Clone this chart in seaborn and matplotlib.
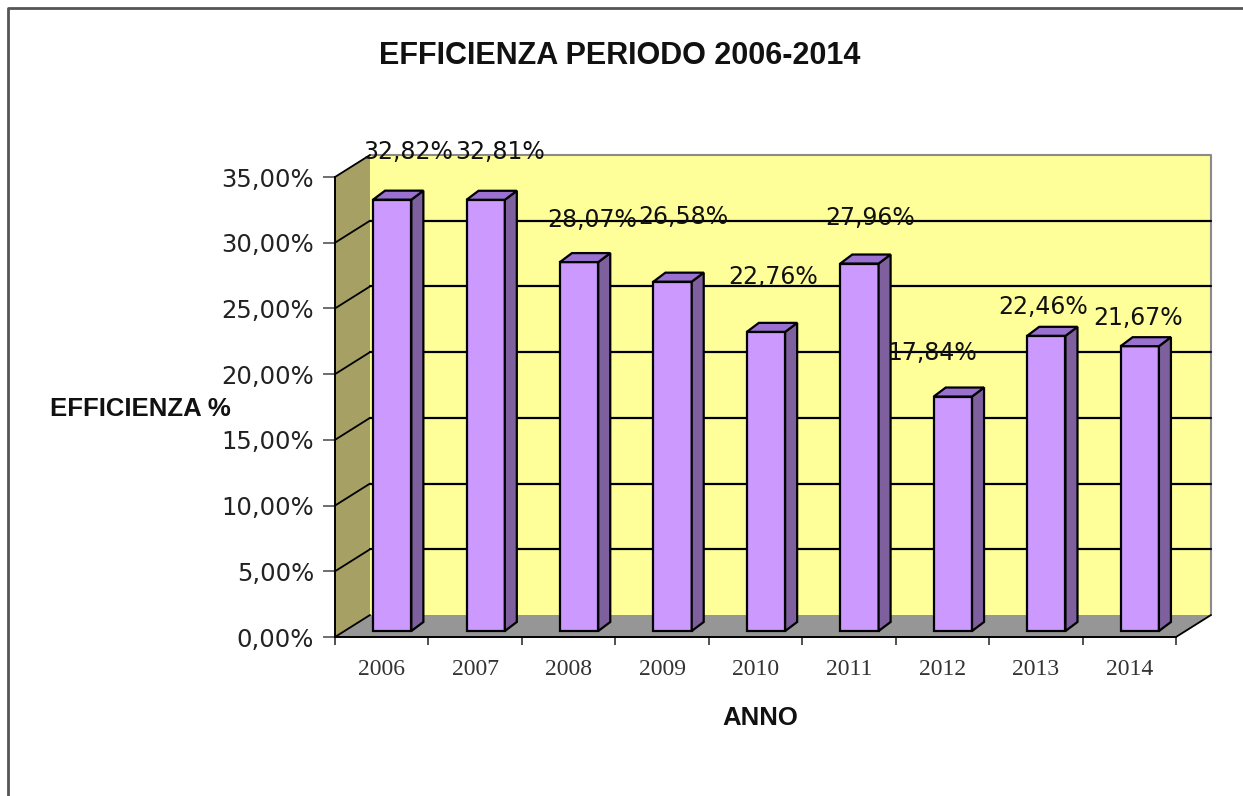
import matplotlib
matplotlib.use("Agg")
import numpy as np
import pandas as pd
import seaborn as sns
import matplotlib.pyplot as plt
from matplotlib.patches import Polygon
from matplotlib.lines import Line2D
from matplotlib.ticker import FixedLocator

# ---------------- data ----------------
years = ["2006", "2007", "2008", "2009", "2010", "2011", "2012", "2013", "2014"]
efficiency = [32.82, 32.81, 28.07, 26.58, 22.76, 27.96, 17.84, 22.46, 21.67]
y_ticks = [0, 5, 10, 15, 20, 25, 30, 35]

title = "EFFICIENZA PERIODO 2006-2014"
y_title = "EFFICIENZA %"
x_title = "ANNO"

# ---------------- layout (pixels) ----------------
W, H = 1243, 796
AX_L, AX_R, AX_T, AX_B = 335, 1176, 177, 637
WALL_DX, WALL_DY = 35, 22          # depth of the 3D walls
BAR_OX, BAR_OY = 10.5, 6           # bar front-face shift into depth
BAR_DX, BAR_DY = 12, 9             # bar depth
LABEL_OFFSETS = [(16, 48), (14, 48), (13, 42), (11, 65), (7, 55),
                 (11, 46), (-21, 44), (-3, 29), (-2, 28)]

def pct(v):
    return f"{v:.2f}".replace(".", ",") + "%"

df = pd.DataFrame({"anno": years, "eff": efficiency})

sns.set_theme(style="white")
plt.rcParams["font.family"] = ["DejaVu Sans"]

fig = plt.figure(figsize=(W / 100, H / 100), dpi=100)
fig.patch.set_facecolor("white")
ax = fig.add_axes([AX_L / W, (H - AX_B) / H, (AX_R - AX_L) / W, (AX_B - AX_T) / H])
ax.patch.set_visible(False)

sns.barplot(data=df, x="anno", y="eff", color="#CC99FF", saturation=1,
            width=0.41, edgecolor="black", linewidth=1.6, ax=ax, zorder=4)

n = len(years)
ax.set_xlim(-0.5, n - 0.5)
ax.set_ylim(0, 35)

sx = (AX_R - AX_L) / n       # px per category
sy = (AX_B - AX_T) / 35.0    # px per percent
wdx, wdy = WALL_DX / sx, WALL_DY / sy
x0a, x1a = -0.5, n - 0.5

# back wall, floor, side wall
back = Polygon([(x0a + wdx, wdy), (x1a + wdx, wdy), (x1a + wdx, 35 + wdy), (x0a + wdx, 35 + wdy)],
               closed=True, facecolor="#FFFF99", edgecolor="none", zorder=0.5, clip_on=False)
floor = Polygon([(x0a, 0), (x1a, 0), (x1a + wdx, wdy), (x0a + wdx, wdy)],
                closed=True, facecolor="#969696", edgecolor="none", zorder=0.6, clip_on=False)
side = Polygon([(x0a, 0), (x0a + wdx, wdy), (x0a + wdx, 35 + wdy), (x0a, 35)],
               closed=True, facecolor="#A6A064", edgecolor="none", zorder=0.6, clip_on=False)
for p in (back, floor, side):
    ax.add_patch(p)

# back-wall outline (top and right), grey
ax.add_line(Line2D([x0a + wdx, x1a + wdx, x1a + wdx], [35 + wdy, 35 + wdy, wdy],
                   color="#8a8a8a", lw=1.5, zorder=0.8, clip_on=False))
# gridlines on back wall and side wall
for k in y_ticks:
    if 0 < k < 35:
        ax.add_line(Line2D([x0a + wdx, x1a + wdx], [k + wdy, k + wdy],
                           color="black", lw=1.6, zorder=0.9, clip_on=False))
    ax.add_line(Line2D([x0a, x0a + wdx], [k, k + wdy],
                       color="black", lw=1.3, zorder=0.9, clip_on=False))
# floor right edge
ax.add_line(Line2D([x1a, x1a + wdx], [0, wdy], color="black", lw=1.3, zorder=0.9, clip_on=False))

# 3D bars
box, boy = BAR_OX / sx, BAR_OY / sy
bdx, bdy = BAR_DX / sx, BAR_DY / sy
bars = [p for p in ax.patches if p not in (back, floor, side)]
for i, bar in enumerate(bars):
    bx = bar.get_x() + box
    bw = bar.get_width()
    bh = bar.get_height()
    bar.set_x(bx)
    bar.set_y(boy)
    yb, yt = boy, boy + bh
    xr = bx + bw
    ax.add_patch(Polygon([(xr, yb), (xr + bdx, yb + bdy), (xr + bdx, yt + bdy), (xr, yt)],
                         closed=True, facecolor="#7F609F", edgecolor="black", lw=1.6,
                         zorder=4, clip_on=False))
    ax.add_patch(Polygon([(bx, yt), (xr, yt), (xr + bdx, yt + bdy), (bx + bdx, yt + bdy)],
                         closed=True, facecolor="#9A70D0", edgecolor="black", lw=1.6,
                         zorder=4, clip_on=False))
    dx, dy = LABEL_OFFSETS[i]
    ax.annotate(pct(efficiency[i]), xy=(bx + bw / 2, yt), xytext=(dx, dy),
                textcoords="offset pixels", ha="center", va="center",
                fontsize=17, color="#111111", family="DejaVu Sans",
                zorder=6, annotation_clip=False)

# spines / axes
for s in ("top", "right"):
    ax.spines[s].set_visible(False)
for s in ("left", "bottom"):
    ax.spines[s].set_visible(True)
    ax.spines[s].set_color("black")
    ax.spines[s].set_linewidth(1.4)
    ax.spines[s].set_zorder(1)

ax.set_yticks(y_ticks)
ax.set_yticklabels([pct(t) for t in y_ticks], fontsize=17.5, color="#222222", family="DejaVu Sans")
ax.tick_params(axis="y", which="major", direction="out", length=9, width=1.2,
               color="#555555", pad=6, left=True)

ax.set_xticks(range(n))
ax.set_xticklabels(years, fontsize=17, color="#333333", family="Liberation Serif")
ax.tick_params(axis="x", which="major", length=0, pad=16, bottom=True)
ax.xaxis.set_minor_locator(FixedLocator(np.arange(-0.5, n, 1.0)))
ax.tick_params(axis="x", which="minor", direction="out", length=6, width=1.2,
               color="#333333", bottom=True)
ax.set_xlabel("")
ax.set_ylabel("")
ax.grid(False)

# titles
fig.text(620 / W, 1 - 56 / H, title, ha="center", va="center", fontsize=22,
         fontweight="bold", family="Liberation Sans", color="#111111")
fig.text(140 / W, 1 - 409 / H, y_title, ha="center", va="center", fontsize=18.5,
         fontweight="bold", family="Liberation Sans", color="#111111")
fig.text(760 / W, 1 - 718 / H, x_title, ha="center", va="center", fontsize=18.5,
         fontweight="bold", family="Liberation Sans", color="#111111")

# chart border (top and left)
fig.add_artist(Line2D([8 / W, 8 / W, 1.0], [0.0, 1 - 8 / H, 1 - 8 / H],
                      transform=fig.transFigure, color="#555555", lw=2))

fig.savefig("out.png", dpi=100)
